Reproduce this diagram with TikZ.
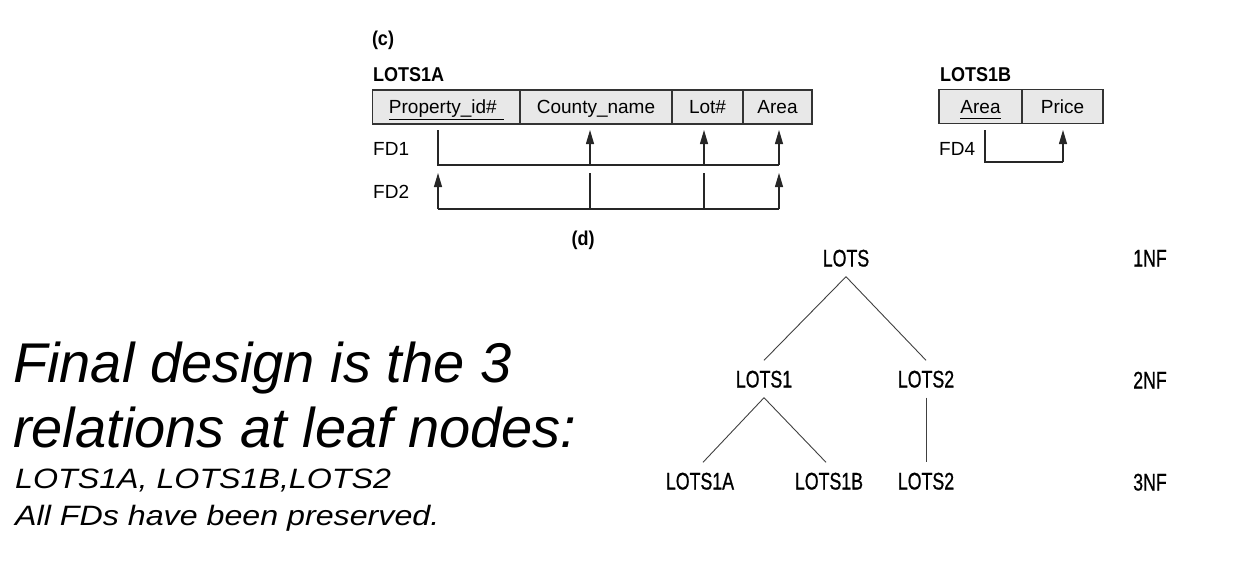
\documentclass[tikz,border=0pt]{standalone}
\usepackage{fontspec}
\setmainfont{Liberation Sans}
\newfontfamily\condfont[FakeStretch=0.74,FakeBold=0.8]{Liberation Sans}
\newfontfamily\headfont[FakeStretch=0.9]{Liberation Sans}
\newfontfamily\widefont[FakeStretch=1.15]{Liberation Sans}
\usetikzlibrary{arrows.meta,positioning,calc}

% underlined key attribute
\newcommand\keyul[1]{\underline{#1\vphantom{y}}}

\begin{document}
\begin{tikzpicture}[
  x=1pt, y=-1pt,
  >={Triangle[length=14pt,width=8pt]},
  cell/.style = {
    draw=black!80, fill=black!9, line width=1.1pt,
    minimum height=34pt, inner sep=0pt, outer sep=0pt,
    font=\fontsize{19}{22}\selectfont,
    text height=13.6pt, text depth=0pt
  },
  fd/.style = {line width=1.1pt, black!85},
  fdlabel/.style = {font=\fontsize{19}{22}\selectfont, anchor=west,
    inner sep=0pt, text height=13.6pt, text depth=0pt},
  head/.style = {font=\headfont\bfseries\fontsize{20}{24}\selectfont,
    inner sep=0pt, text height=14.3pt, text depth=0pt},
  rel/.style = {font=\condfont\fontsize{24}{28}\selectfont,
    inner xsep=2pt, inner ysep=10pt, text height=17pt, text depth=0pt},
  edge/.style = {line width=0.9pt, black!75},
  bignote/.style = {font=\itshape\fontsize{56}{65}\selectfont,
    anchor=base west, inner sep=0pt},
  smallnote/.style = {font=\widefont\itshape\fontsize{28}{33}\selectfont,
    anchor=base west, inner sep=0pt}
]
\useasboundingbox (0,0) rectangle (1240,560);

% ---- (c): LOTS1A and LOTS1B ----
\node[head] (tagc) at (383,38) {(c)};
\node[head, anchor=west] (hdA) at (373,74.5) {LOTS1A};
\node[head, anchor=west] (hdB) at (940,74.5) {LOTS1B};

\node[cell, minimum width=147.3pt, anchor=west] (pid) at (372.7,107) {\keyul{Property\_id\#\kern7pt}};
\node[cell, minimum width=152pt, right=0pt of pid] (county) {County\_name};
\node[cell, minimum width=71pt, right=0pt of county] (lot) {Lot\#};
\node[cell, minimum width=69pt, right=0pt of lot] (area) {Area};

\node[cell, minimum width=83pt, anchor=west] (barea) at (939,106.5) {\keyul{Area}};
\node[cell, minimum width=81pt, right=0pt of barea] (price) {Price};

\node[fdlabel] (fdone) at (373,148.5) {FD1};
\node[fdlabel] (fdtwo) at (373,191.5) {FD2};
\node[fdlabel] (fdfour) at (939,148.5) {FD4};

% ---- FD anchors ----
\coordinate (pidT)   at (438,130);
\coordinate (cntT)   at (590,130);
\coordinate (lotT)   at (704,130);
\coordinate (areaT)  at (779,130);
\coordinate (bareaT) at (985,130);
\coordinate (priceT) at (1063,130);
\coordinate (fd1)  at (0,165);
\coordinate (fd2t) at (0,173);
\coordinate (fd2)  at (0,209);
\coordinate (fd4)  at (0,162);

% FD1
\draw[fd] (pidT) -- (pidT |- fd1) -- (areaT |- fd1);
\foreach \c in {cntT,lotT,areaT}
  \draw[fd,->] (\c |- fd1) -- (\c);
% FD2
\draw[fd] (pidT |- fd2) -- (areaT |- fd2);
\foreach \c in {pidT,areaT}
  \draw[fd,->] (\c |- fd2) -- (\c |- fd2t);
\foreach \c in {cntT,lotT}
  \draw[fd] (\c |- fd2t) -- (\c |- fd2);
% FD4
\draw[fd] (bareaT) -- (bareaT |- fd4) -- (priceT |- fd4);
\draw[fd,->] (priceT |- fd4) -- (priceT);

% ---- (d): decomposition tree ----
\node[head] (tagd) at (583,238) {(d)};

\node[rel] (lots)   at (846,258) {LOTS};
\node[rel] (lots1)  at (764,379) {LOTS1};
\node[rel] (lots2)  at (926,379) {LOTS2};
\node[rel] (lots1a) at (700,481) {LOTS1A};
\node[rel] (lots1b) at (829,481) {LOTS1B};
\node[rel] (lots2b) at (926,481) {LOTS2};

\node[rel] (nf1) at (1150,258) {1NF};
\node[rel] (nf2) at (1150,380) {2NF};
\node[rel] (nf3) at (1150,482) {3NF};

\draw[edge] (lots.south) -- (lots1.north);
\draw[edge] (lots.south) -- (lots2.north);
\draw[edge] (lots1.south) -- ($(lots1a.north)+(3,0)$);
\draw[edge] (lots1.south) -- ($(lots1b.north)+(-3,0)$);
\draw[edge] (lots2.south) -- (lots2b.north);

% ---- note ----
\node[bignote] (note1) at (13,382) {Final design is the 3};
\node[bignote] (note2) at (13,447) {relations at leaf nodes:};
\node[smallnote] (note3) at (15,488) {LOTS1A, LOTS1B,LOTS2};
\node[smallnote] (note4) at (15,525) {All FDs have been preserved.};

\end{tikzpicture}
\end{document}
